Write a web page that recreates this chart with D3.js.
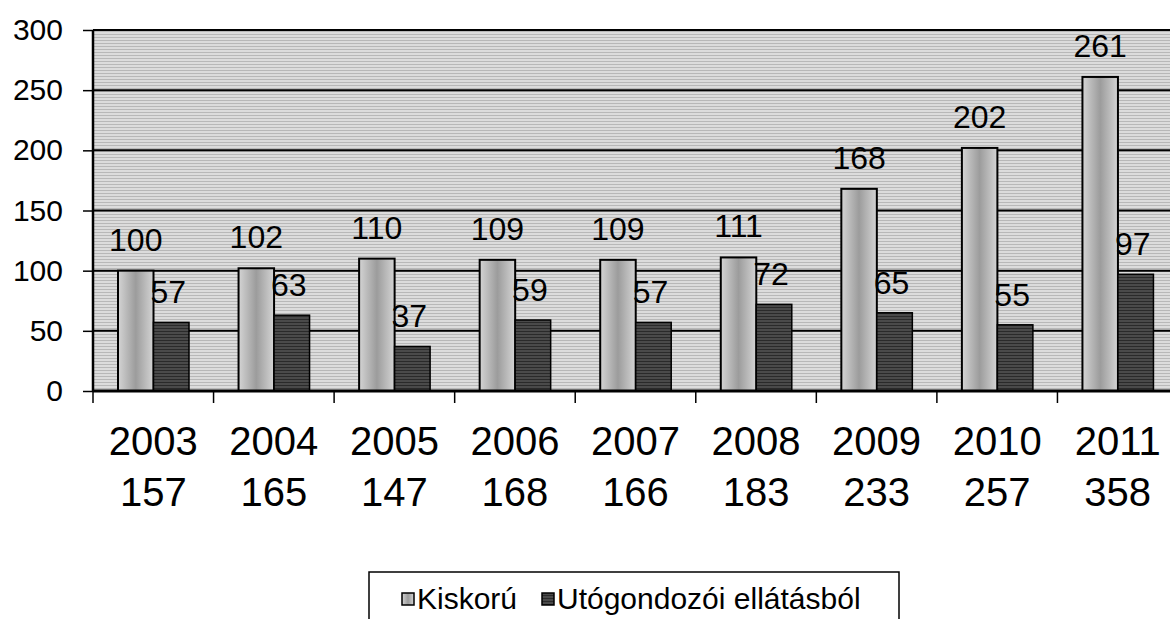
<!DOCTYPE html>
<html><head><meta charset="utf-8">
<script src="https://cdn.jsdelivr.net/npm/d3@7"></script>
<style>body{margin:0;background:#fff;overflow:hidden}svg{display:block}text{font-family:"Liberation Sans",Arial,sans-serif;fill:#000}</style>
</head><body>
<script>
const years = ["2003","2004","2005","2006","2007","2008","2009","2010","2011"];
const totals = ["157","165","147","168","166","183","233","257","358"];
const kiskoru = [100,102,110,109,109,111,168,202,261];
const utogond = [57,63,37,59,57,72,65,55,97];
const seriesNames = ["Kiskorú","Utógondozói ellátásból"];
const yTicks = [0,50,100,150,200,250,300];

const W=1170,H=619;
const svg=d3.select("body").append("svg").attr("width",W).attr("height",H);
const defs=svg.append("defs");
function pat(id,a,b){const p=defs.append("pattern").attr("id",id).attr("width",4).attr("height",3).attr("patternUnits","userSpaceOnUse");
 p.append("rect").attr("width",4).attr("height",3).attr("fill",a);
 p.append("rect").attr("y",1).attr("width",4).attr("height",1).attr("fill",b);}
pat("bg","#dcdcdc","#b8b8b8");
pat("dk","#4a4a4a","#2a2a2a");
const gr=defs.append("linearGradient").attr("id","ltg").attr("x1","0").attr("x2","1").attr("y1","0").attr("y2","0");
[["0%","#d4d4d4"],["50%","#9c9c9c"],["100%","#d4d4d4"]].forEach(s=>gr.append("stop").attr("offset",s[0]).attr("stop-color",s[1]));

const L=93,R=1178,T=30,B=391;
const x=d3.scaleBand().domain(years).range([L,R]);
const y=d3.scaleLinear().domain([0,300]).range([B,T]);
const bw=35.5, off=25;

svg.append("rect").attr("x",L).attr("y",T).attr("width",R-L).attr("height",B-T).attr("fill","url(#bg)");
svg.append("g").selectAll("line").data(yTicks.filter(d=>d>0)).join("line")
 .attr("x1",L).attr("x2",R).attr("y1",d=>y(d)).attr("y2",d=>y(d)).attr("stroke","#000").attr("stroke-width",2);
svg.append("line").attr("x1",L).attr("x2",L).attr("y1",T).attr("y2",B).attr("stroke","#000").attr("stroke-width",2.5);

const g=svg.append("g");
g.selectAll(".k").data(years).join("rect").attr("x",d=>x(d)+off).attr("y",(d,i)=>y(kiskoru[i])).attr("width",bw)
 .attr("height",(d,i)=>B-y(kiskoru[i])).attr("fill","url(#ltg)").attr("stroke","#000").attr("stroke-width",2);
g.selectAll(".u").data(years).join("rect").attr("x",d=>x(d)+off+bw).attr("y",(d,i)=>y(utogond[i])).attr("width",bw)
 .attr("height",(d,i)=>B-y(utogond[i])).attr("fill","url(#dk)").attr("stroke","#000").attr("stroke-width",1.5);

g.selectAll(".kl").data(years).join("text").attr("x",d=>x(d)+off+bw/2).attr("y",(d,i)=>y(kiskoru[i])-20)
 .attr("text-anchor","middle").attr("font-size",32).text((d,i)=>kiskoru[i]);
g.selectAll(".ul").data(years).join("text").attr("x",d=>x(d)+off+bw*1.5-3).attr("y",(d,i)=>y(utogond[i])-19)
 .attr("text-anchor","middle").attr("font-size",32).text((d,i)=>utogond[i]);

// y axis
const ya=svg.append("g").attr("transform",`translate(${L},0)`).call(d3.axisLeft(y).tickValues(yTicks).tickSize(10).tickPadding(20));
ya.select(".domain").remove();
ya.selectAll("line").attr("stroke","#000").attr("stroke-width",1.5);
ya.selectAll("text").attr("font-size",30).attr("font-family","Liberation Sans, Arial, sans-serif").attr("fill","#000");

// x axis
svg.append("line").attr("x1",L).attr("x2",R).attr("y1",B).attr("y2",B).attr("stroke","#000").attr("stroke-width",3);
svg.append("g").selectAll("line").data(years).join("line").attr("x1",d=>x(d)).attr("x2",d=>x(d)).attr("y1",B).attr("y2",B+12)
 .attr("stroke","#000").attr("stroke-width",1.5);
const xl=svg.append("g").selectAll("text").data(years).join("text").attr("x",d=>x(d)+x.bandwidth()/2).attr("text-anchor","middle").attr("font-size",40);
xl.append("tspan").attr("x",d=>x(d)+x.bandwidth()/2).attr("y",455).text(d=>d);
xl.append("tspan").attr("x",d=>x(d)+x.bandwidth()/2).attr("y",506).text((d,i)=>totals[i]);

// legend
svg.append("rect").attr("x",369).attr("y",572).attr("width",530).attr("height",80).attr("fill","#fff").attr("stroke","#000").attr("stroke-width",1.5);
const lx=[402,542];
const fills=["url(#ltg)","url(#dk)"];
seriesNames.forEach((n,i)=>{
 svg.append("rect").attr("x",lx[i]).attr("y",593).attr("width",12).attr("height",12).attr("fill",fills[i]).attr("stroke","#000").attr("stroke-width",1.5);
 svg.append("text").attr("x",lx[i]+15).attr("y",609).attr("font-size",30).text(n);
});
</script>
</body></html>
